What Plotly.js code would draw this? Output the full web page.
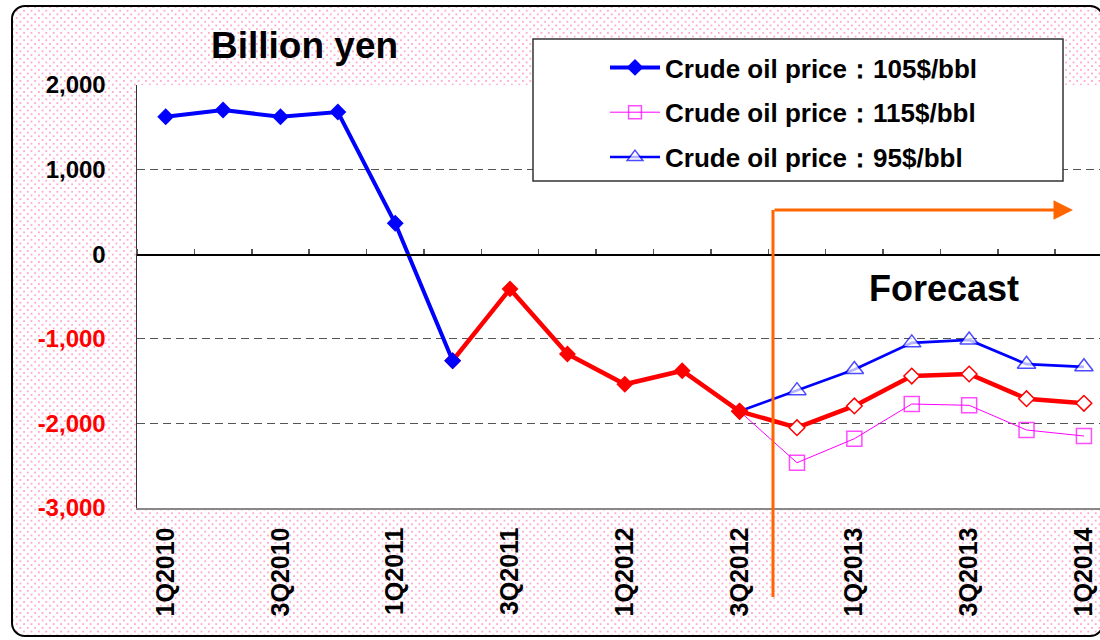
<!DOCTYPE html>
<html>
<head>
<meta charset="utf-8">
<script src="https://cdn.plot.ly/plotly-3.0.1.min.js"></script>
<style>
  html, body { margin: 0; padding: 0; background: #ffffff; overflow: hidden; }
  #frame {
    position: absolute; left: 11px; top: 5px; width: 1093px; height: 632px;
    border: 2px solid #000; border-radius: 14px; box-sizing: border-box;
    background-color: #ffffff;
    background-image:
      radial-gradient(circle, #ffaad2 0.7px, rgba(255,255,255,0) 1.3px),
      radial-gradient(circle, #ffaad2 0.7px, rgba(255,255,255,0) 1.3px);
    background-size: 7.4px 7.4px, 7.4px 7.4px;
    background-position: 0 0, 3.7px 3.7px;
  }
  #chart { position: absolute; left: 0; top: 0; width: 1100px; height: 640px; }
</style>
</head>
<body>
<div id="frame"></div>
<div id="chart"></div>
<script>
// ---- data ----
const categories = ['1Q2010','2Q2010','3Q2010','4Q2010','1Q2011','2Q2011','3Q2011','4Q2011',
                    '1Q2012','2Q2012','3Q2012','4Q2012','1Q2013','2Q2013','3Q2013','4Q2013','1Q2014'];
const actualBlueCats = categories.slice(0, 6);
const actualBlue = [1625, 1704, 1625, 1681, 365, -1259];
const actualRedCats = categories.slice(5, 11);
const actualRed = [-1259, -410, -1180, -1538, -1377, -1857];
const forecastCats = categories.slice(10, 17);
const forecast105 = [-1857, -2051, -1794, -1440, -1416, -1708, -1762];
const forecast115 = [-1857, -2465, -2181, -1771, -1786, -2078, -2149];
const forecast95  = [-1857, -1613, -1363, -1048, -1014, -1300, -1331];
const yTickVals = [2000, 1000, 0, -1000, -2000, -3000];
const yTickText = ['2,000', '1,000', '0', '-1,000', '-2,000', '-3,000'];
const xTickLabels = categories.filter((c, i) => i % 2 === 0);
const names = ['Crude oil price：105$/bbl', 'Crude oil price：115$/bbl', 'Crude oil price：95$/bbl'];
const titleText = 'Billion yen';
const forecastText = 'Forecast';

// ---- styling ----
const FONT = 'Arial, "Liberation Sans", sans-serif';
const BLUE = '#0000FF', RED = '#FF0000', MAG = '#FF00FF', ORANGE = '#FF6600';
const hideFirst = (arr, s) => arr.map((v, i) => i === 0 ? 0 : s);

const traces = [
  { // invisible carrier for the zero-line category axis
    x: categories, y: categories.map(() => 0), xaxis: 'x2', type: 'scatter', mode: 'lines',
    line: { width: 0, color: 'rgba(0,0,0,0)' }, showlegend: false, hoverinfo: 'skip'
  },
  { // 115 forecast
    x: forecastCats, y: forecast115, type: 'scatter', mode: 'lines+markers', name: names[1],
    legendgroup: 'g2', legendrank: 2,
    line: { color: MAG, width: 1 },
    marker: { symbol: 'square-open', size: hideFirst(forecast115, 15), color: MAG, line: { color: MAG, width: 1.5 } }
  },
  { // 95 forecast
    x: forecastCats, y: forecast95, type: 'scatter', mode: 'lines+markers', name: names[2],
    legendgroup: 'g3', legendrank: 3,
    line: { color: BLUE, width: 2.7 },
    marker: { symbol: 'triangle-up', size: hideFirst(forecast95, 16), color: '#ffffff', line: { color: BLUE, width: 1.5 } }
  },
  { // 105 forecast
    x: forecastCats, y: forecast105, type: 'scatter', mode: 'lines+markers', showlegend: false,
    line: { color: RED, width: 4.5 },
    marker: { symbol: 'diamond', size: 12, color: '#ffffff', line: { color: RED, width: 1.5 } }
  },
  { // actual red
    x: actualRedCats, y: actualRed, type: 'scatter', mode: 'lines+markers', showlegend: false,
    line: { color: RED, width: 4.5 },
    marker: { symbol: 'diamond', size: 13, color: RED }
  },
  { // actual blue
    x: actualBlueCats, y: actualBlue, type: 'scatter', mode: 'lines+markers', name: names[0],
    legendgroup: 'g1', legendrank: 1,
    line: { color: BLUE, width: 4 },
    marker: { symbol: 'diamond', size: 13, color: BLUE }
  }
];

// pixel helpers for decorations (plot area: x 137..1100, y 85..508)
const px = p => (p - 137) / 963;
const py = p => (508 - p) / 423;

const layout = {
  width: 1100, height: 640,
  margin: { l: 137, r: 0, t: 85, b: 132, pad: 0 },
  paper_bgcolor: 'rgba(0,0,0,0)',
  plot_bgcolor: '#ffffff',
  font: { family: FONT, color: '#000' },
  showlegend: true,
  legend: {
    x: px(605), y: py(44), xanchor: 'left', yanchor: 'top',
    bgcolor: 'rgba(0,0,0,0)', borderwidth: 0,
    font: { family: FONT, size: 26, weight: 'bold', color: '#000' },
    tracegroupgap: 8, itemwidth: 50, traceorder: 'grouped'
  },
  xaxis: {
    type: 'category', categoryorder: 'array', categoryarray: categories, range: [-0.5, 16.28],
    tickmode: 'array', tickvals: xTickLabels, ticktext: xTickLabels,
    tickangle: -90, ticks: '', ticklabelstandoff: 8,
    tickfont: { family: FONT, size: 25, weight: 'bold', color: '#000' },
    showline: true, linecolor: '#888', linewidth: 1.5,
    showgrid: false, zeroline: false, fixedrange: true
  },
  xaxis2: {
    overlaying: 'x', anchor: 'free', position: 0.6, side: 'top',
    type: 'category', categoryorder: 'array', categoryarray: categories, range: [-0.5, 16.28],
    tickmode: 'linear', tick0: 0, dtick: 1, tickson: 'boundaries',
    ticks: 'outside', ticklen: 5, tickwidth: 1.5, tickcolor: '#555',
    showticklabels: false, showline: true, linecolor: '#000', linewidth: 1.5,
    showgrid: false, zeroline: false, fixedrange: true
  },
  yaxis: {
    range: [-3000, 2000], tickmode: 'array',
    tickvals: yTickVals,
    ticktext: yTickText.map((t, i) => yTickVals[i] < 0 ? '<span style="color:#FF0000">' + t + '</span>' : t),
    tickfont: { family: FONT, size: 24, weight: 'bold', color: '#000' },
    ticks: '', ticklabelstandoff: 25,
    showgrid: true, gridcolor: '#555', gridwidth: 1, griddash: '8px,5px',
    zeroline: false, showline: true, linecolor: '#333', linewidth: 1.5, fixedrange: true
  },
  shapes: [
    { type: 'rect', xref: 'paper', yref: 'paper', x0: px(533), x1: px(1063), y0: py(181), y1: py(39),
      fillcolor: '#ffffff', line: { color: '#333', width: 1.5 }, layer: 'above' },
    { type: 'line', xref: 'paper', yref: 'paper', x0: px(773), x1: px(773), y0: py(597), y1: py(210),
      line: { color: ORANGE, width: 3 } }
  ],
  annotations: [
    { xref: 'paper', yref: 'paper', x: px(304), y: py(46), xanchor: 'center', yanchor: 'middle',
      text: titleText, showarrow: false,
      font: { family: FONT, size: 37, weight: 'bold', color: '#000' } },
    { xref: 'paper', yref: 'paper', x: px(944), y: py(288), xanchor: 'center', yanchor: 'middle',
      text: forecastText, showarrow: false,
      font: { family: FONT, size: 36, weight: 'bold', color: '#000' } },
    { xref: 'paper', yref: 'paper', x: px(1073), y: py(210), text: '', showarrow: true,
      axref: 'pixel', ayref: 'pixel', ax: -300, ay: 0, standoff: 0,
      arrowhead: 2, arrowsize: 1.3, arrowwidth: 3, arrowcolor: ORANGE }
  ]
};

Plotly.newPlot('chart', traces, layout, { displayModeBar: false, staticPlot: true });
</script>
</body>
</html>
